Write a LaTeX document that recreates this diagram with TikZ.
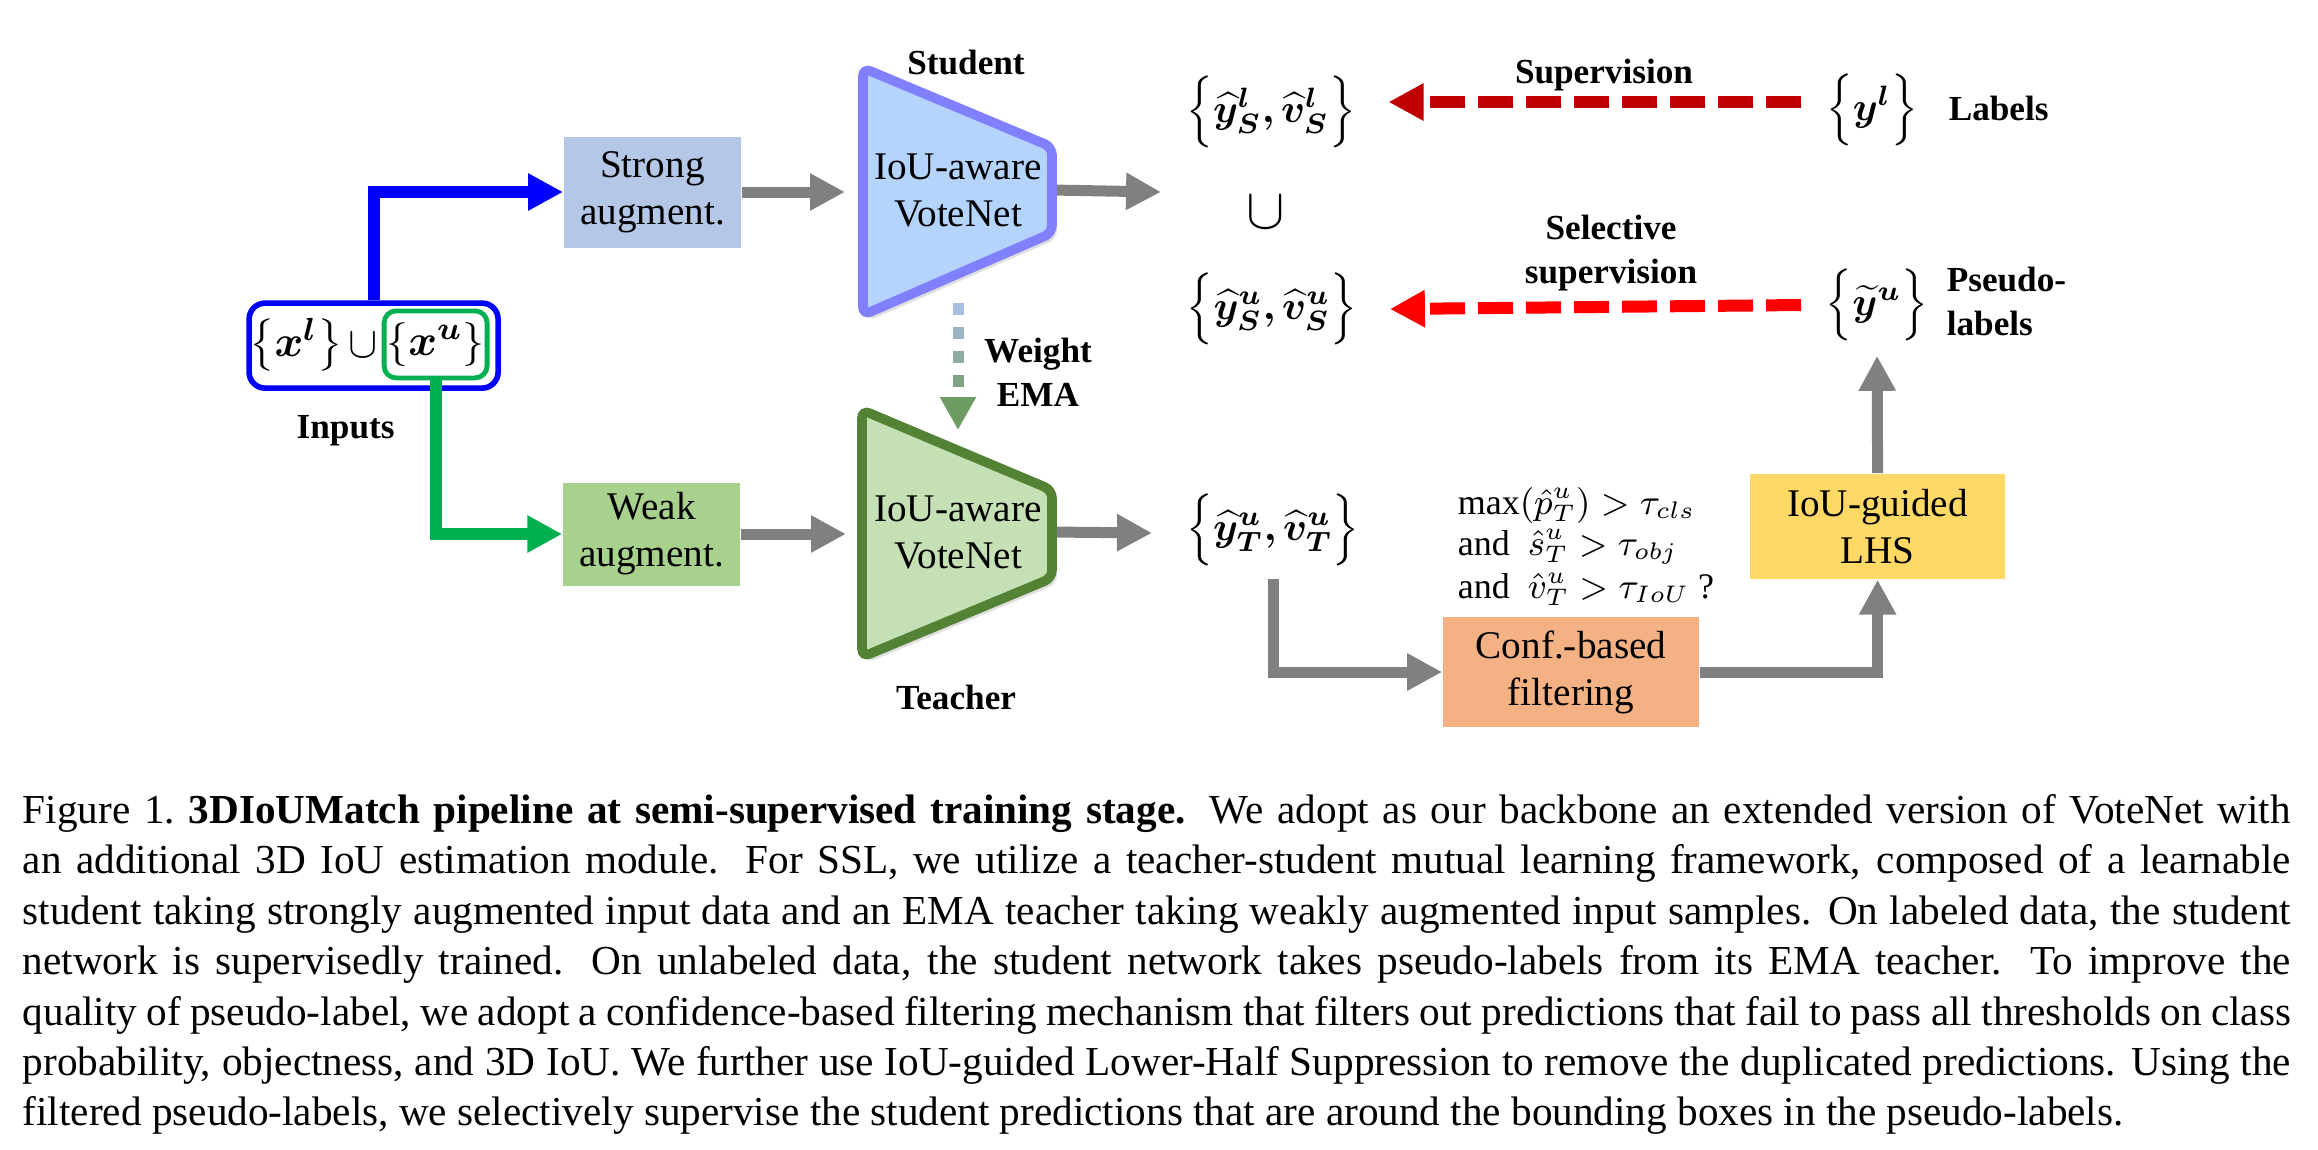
\documentclass[tikz,border=0pt]{standalone}
\usepackage{amsmath}
\usepackage{bm}
\usepackage{fontspec}
\setmainfont{Liberation Serif}
\newcommand\capsetup{\hyphenpenalty=10000 \exhyphenpenalty=10000 \relax}
\usepackage{tikz}
\usetikzlibrary{positioning, arrows.meta, shadows}
\definecolor{stufill}{HTML}{B4D4FD}
\definecolor{studraw}{HTML}{8080FF}
\definecolor{teafill}{HTML}{C5E0B4}
\definecolor{teadraw}{HTML}{548235}
\definecolor{strongfill}{HTML}{B4C7E7}
\definecolor{weakfill}{HTML}{A9D18E}
\definecolor{conffill}{HTML}{F4B183}
\definecolor{lhsfill}{HTML}{FFD966}
\definecolor{flowgray}{HTML}{808080}
\definecolor{inblue}{HTML}{0000FF}
\definecolor{ingreen}{HTML}{00B050}
\definecolor{supred}{HTML}{C00000}
\definecolor{selred}{HTML}{FF0000}
\definecolor{emadash1}{HTML}{A9BFE2}
\definecolor{emadash2}{HTML}{9BB4C2}
\definecolor{emadash3}{HTML}{8EAC9F}
\definecolor{emadash4}{HTML}{80A385}
\definecolor{emahead}{HTML}{6E9B62}
\tikzset{
>={Triangle[length=8.75pt, width=8.75pt]}, % wide flat heads on every arrow
box/.style={inner sep=0pt, align=center, font=\fontsize{9.8pt}{11.75pt}\selectfont}, % text of the coloured boxes
tag/.style={inner sep=0pt, align=center, font=\fontsize{8.8pt}{11pt}\selectfont\bfseries}, % bold labels
set/.style={inner sep=0pt, font=\fontsize{10pt}{11pt}\selectfont}, % predicted and given sets
inset/.style={inner sep=0pt, font=\fontsize{11pt}{13pt}\selectfont}, % input sets
flow/.style={->, draw=flowgray, line width=2.75pt}, % gray data flow
inflow/.style={->, line width=3pt}, % input branches
superv/.style={->, line width=3pt, dash pattern=on 8.75pt off 3.25pt}, % supervision
ema/.style={line width=2.75pt, dash pattern=on 3pt off 3pt, shorten <=28.25pt}, % weight EMA dashes
net/.style={line width=2.4pt, rounded corners=2pt, drop shadow={shadow xshift=1.2pt, shadow yshift=-1.5pt, opacity=0.25}}, % VoteNet trapezoids
inbox/.style={draw=inblue, line width=1.4pt, rounded corners=4pt, minimum width=62.25pt, minimum height=21.25pt}, % all inputs
unlbox/.style={draw=ingreen, line width=1.2pt, rounded corners=3pt, minimum width=25.75pt, minimum height=16.75pt}, % unlabeled inputs
cond/.style={inner sep=0pt, anchor=base west, font=\fontsize{9pt}{10.8pt}\selectfont}, % thresholds
caption/.style={inner sep=0pt, text width=567pt, align=justify, font=\fontsize{10.3pt}{12.6pt}\selectfont}, % figure caption
}
\begin{document}
\begin{tikzpicture}[x=1pt, y=-1pt]
\useasboundingbox (0,0) rectangle (579.5,287.25);
% inputs
\node[inbox] (inputs) at (93.4,86.4) {};
\node[inset] (xl) at (74,86.25) {$\left\{\bm{x^l}\right\}$};
\node[inset] (cup) at (90.75,86.25) {$\cup$};
\node[inset, unlbox] (xu) at (108.9,86.1) {$\left\{\bm{x^u}\right\}$};
\node[tag, below=6pt of inputs, xshift=-7pt] (inlabel) {Inputs};
% augmentations
\node[box, fill=strongfill, minimum width=44.25pt, minimum height=27.75pt] (strong) at (163.1,48) {Strong\\augment.};
\node[box, fill=weakfill, minimum width=44.25pt, minimum height=25.75pt] (weak) at (162.9,133.5) {Weak\\augment.};
% student and teacher
\path[net, fill=stufill, draw=studraw] (215.75,17) coordinate (s1) -- (263,36.75) coordinate (s2)
    -- (263,58.25) coordinate (s3) -- (215.75,78.75) coordinate (s4) -- cycle;
\node[box] (student) at (239.5,47.5) {IoU-aware\\VoteNet};
\node[tag] (stulabel) at (241.5,15.5) {Student};
\path[net, fill=teafill, draw=teadraw] (215.5,102.5) coordinate (t1) -- (263,122.5) coordinate (t2)
    -- (263,144.5) coordinate (t3) -- (215.5,164.25) coordinate (t4) -- cycle;
\node[box] (teacher) at (239.5,133) {IoU-aware\\VoteNet};
\node[tag] (tealabel) at (239,174.25) {Teacher};
\node[tag] (emalabel) at (259.5,93) {Weight\\EMA};
% predictions and labels
\node[set] (ysl) at (317.75,28) {$\Bigl\{\bm{\widehat{y}^l_S, \widehat{v}^l_S}\Bigr\}$};
\node[inner sep=0pt, font=\fontsize{14pt}{14pt}\selectfont] (cup2) at (316.5,53) {$\cup$};
\node[set] (ysu) at (318,77.25) {$\Bigl\{\bm{\widehat{y}^u_S, \widehat{v}^u_S}\Bigr\}$};
\node[set] (yt) at (318.25,132.5) {$\Bigl\{\bm{\widehat{y}^u_T, \widehat{v}^u_T}\Bigr\}$};
\node[set] (yl) at (468,27.5) {$\Bigl\{\bm{y^l}\Bigr\}$};
\node[set] (yu) at (469.25,76.25) {$\Bigl\{\bm{\widetilde{y}^u}\Bigr\}$};
\node[tag, anchor=west] (lablabel) at (487,27) {Labels};
\node[tag, anchor=west, align=left] (pslabel) at (486.5,75.4) {Pseudo-\\labels};
\node[tag] (suplabel) at (401,18.75) {Supervision};
\node[tag] (sellabel) at (402.75,63.25) {Selective\\supervision};
% filtering
\node[cond] (cls) at (364.25,128.5) {$\max(\hat{p}^u_T) > \tau_{cls}$};
\node[cond] (obj) at (364.25,138.8) {and \ $\hat{s}^u_T > \tau_{obj}$};
\node[cond] (iou) at (364.25,149.6) {and \ $\hat{v}^u_T > \tau_{IoU}$ ?};
\node[box, fill=conffill, minimum width=64pt, minimum height=27.5pt] (conf) at (392.75,168) {Conf.-based\\filtering};
\node[box, fill=lhsfill, minimum width=63.75pt, minimum height=26.25pt] (lhs) at (469.4,131.6) {IoU-guided\\LHS};
\coordinate (stuout) at (290.25,48);
\coordinate (teaout) at (288,133.25);
\draw[inflow, draw=inblue] (inputs.north) |- (strong.west);
\draw[inflow, draw=ingreen] (xu.south) |- (weak.west);
\draw[flow, shorten >=4.5pt] (strong.east) -- (strong.east -| s1);
\draw[flow, shorten >=4pt] (weak.east) -- (weak.east -| t1);
\draw[flow, shorten <=1.2pt] (student -| s2) -- (stuout);
\draw[flow, shorten <=1.2pt] (teacher -| t2) -- (teaout);
% weight EMA, fading from blue to green
\draw[ema, ->, draw=emadash4, >={Triangle[length=8.25pt, width=8.5pt, color=emahead]}, shorten >=25.5pt] (student.center) -- (teacher.center);
\draw[ema, draw=emadash3, shorten >=42.25pt] (student.center) -- (teacher.center);
\draw[ema, draw=emadash2, shorten >=48.25pt] (student.center) -- (teacher.center);
\draw[ema, draw=emadash1, shorten >=54.25pt] (student.center) -- (teacher.center);
\draw[superv, draw=supred] ([xshift=-6pt, yshift=2pt]yl.west) -- ([xshift=8pt, yshift=2.5pt]ysl.east);
\draw[superv, draw=selred] ([xshift=-6pt]yu.west) -- ([xshift=8pt]ysu.east);
\draw[flow, shorten <=3pt] (yt.south) |- (conf.west);
\draw[flow] (conf.east) -| (lhs.south);
\draw[flow, shorten >=3.5pt] (lhs.north) -- (yu.south);
% caption
\node[caption, anchor=north west] (caption) at (5.5,198.4) {\capsetup Figure 1.\ \textbf{3DIoUMatch pipeline at semi-supervised training stage.} We adopt as our backbone an extended version of VoteNet with\linebreak
an additional 3D IoU estimation module. For SSL, we utilize a teacher-student mutual learning framework, composed of a learnable\linebreak
student taking strongly augmented input data and an EMA teacher taking weakly augmented input samples. On labeled data, the student\linebreak
network is supervisedly trained. On unlabeled data, the student network takes pseudo-labels from its EMA teacher. To improve the\linebreak
quality of pseudo-label, we adopt a confidence-based filtering mechanism that filters out predictions that fail to pass all thresholds on class\linebreak
probability, objectness, and 3D IoU. We further use IoU-guided Lower-Half Suppression to remove the duplicated predictions. Using the\linebreak
filtered pseudo-labels, we selectively supervise the student predictions that are around the bounding boxes in the pseudo-labels.};
\end{tikzpicture}
\end{document}
